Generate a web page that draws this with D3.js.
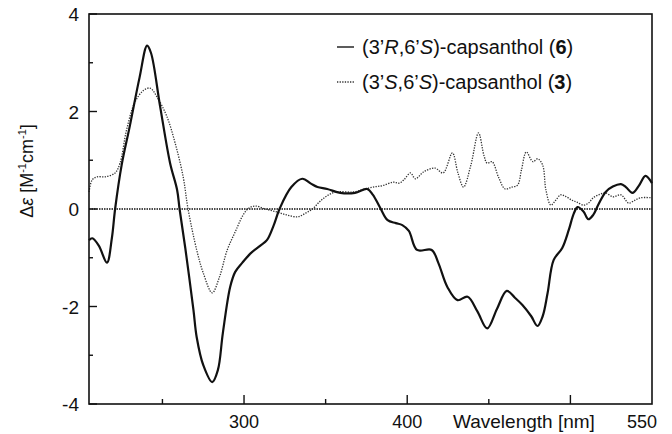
<!DOCTYPE html>
<html>
<head>
<meta charset="utf-8">
<script src="https://cdn.jsdelivr.net/npm/d3@7.9.0/dist/d3.min.js"></script>
<style>
  body { margin: 0; background: #fff; }
  text { font-family: "Liberation Sans", Arial, sans-serif; fill: #111; }
</style>
</head>
<body>
<svg id="chart" width="672" height="434"></svg>
<script>
// CD spectra, wavelength in nm, delta epsilon in M^-1 cm^-1
const wl6 = [205, 207, 211, 216, 219, 221, 225, 230, 236, 240.6, 243, 248.6, 254.7, 259, 260.5, 264, 269, 271, 275, 280.5,
  284, 287, 291.5, 294.6, 299, 304, 310, 314, 318, 322, 329, 335.7, 341, 345, 351, 359, 368, 375.5, 379, 383.5,
  388, 393, 397, 401, 406, 415, 419, 424.6, 430.8, 437, 443, 449, 455, 461, 466, 470.6, 476, 479.8, 483, 486,
  489.7, 495, 499, 502, 504.4, 508, 511, 514, 517, 521.6, 526, 531, 534, 538, 542, 546, 550];
const de6 = [-0.64, -0.6, -0.75, -1.1, -0.6, 0, 0.9, 1.7, 2.7, 3.35, 3.2, 2.1, 0.94, 0.39, 0, -0.8, -2.07, -2.63, -3.2, -3.55,
  -3.3, -2.55, -1.6, -1.29, -1.1, -0.91, -0.75, -0.64, -0.35, 0.02, 0.45, 0.62, 0.52, 0.45, 0.41, 0.33, 0.33, 0.41, 0.29, 0.02,
  -0.23, -0.29, -0.33, -0.45, -0.84, -0.84, -1.1, -1.6, -1.87, -1.8, -2.1, -2.45, -2.05, -1.68, -1.82, -1.97, -2.2, -2.4, -2.2, -1.73,
  -1.05, -0.8, -0.43, -0.1, 0.04, -0.05, -0.21, -0.12, 0.08, 0.35, 0.46, 0.51, 0.45, 0.33, 0.48, 0.68, 0.53];

const wl3 = [205, 207, 210, 215, 221, 224, 228, 233, 238, 242.4, 247, 252.8, 257.8, 262.7, 265.7, 271, 275, 280.5, 285, 289.7,
  294.6, 299.5, 303, 307, 313, 320, 326, 333, 338, 342, 346, 350, 356, 367, 373, 379, 385, 391.5, 395, 398,
  402, 405, 410, 417, 422, 427.7, 431, 434.5, 439, 443.7, 447, 449, 452, 456, 460, 464, 467.6, 470, 473, 477,
  480, 483, 485, 488, 491, 494, 497, 501, 504, 508, 511, 514, 518, 521.6, 526, 531, 535.7, 539, 543, 550];
const de3 = [0.35, 0.6, 0.66, 0.66, 0.74, 0.94, 1.62, 2.18, 2.42, 2.48, 2.28, 1.89, 1.35, 0.66, 0, -0.84, -1.31, -1.72, -1.39, -0.84,
  -0.47, -0.12, 0.02, 0.06, 0, -0.06, -0.12, -0.16, -0.08, 0, 0.14, 0.25, 0.35, 0.35, 0.4, 0.45, 0.48, 0.55, 0.53, 0.6,
  0.74, 0.62, 0.76, 0.84, 0.74, 1.15, 0.75, 0.45, 0.9, 1.56, 1.1, 0.94, 0.97, 0.65, 0.41, 0.45, 0.49, 0.8, 1.17, 0.97,
  1.03, 0.9, 0.39, 0.08, 0.18, 0.29, 0.26, 0.18, 0.14, 0.08, 0.12, 0.23, 0.3, 0.33, 0.25, 0.29, 0.12, 0.17, 0.23, 0.23];

const xMajor = [300, 400, 500];
const xMinor = [250, 350, 450];
const xLabels = [300, 400, 550];
const yMajor = [-4, -2, 0, 2, 4];
const yMinor = [-3, -1, 1, 3];

const svg = d3.select('#chart');
const mLeft = 89, mRight = 652, mTop = 14, mBottom = 404;

const x = d3.scaleLinear().domain([205, 550]).range([mLeft, mRight]);
const y = d3.scaleLinear().domain([-4, 4]).range([mBottom, mTop]);

// zero line
svg.append('line')
  .attr('x1', mLeft).attr('x2', mRight)
  .attr('y1', y(0)).attr('y2', y(0))
  .attr('stroke', '#111').attr('stroke-width', 1.6)
  .attr('stroke-dasharray', '1.5 1');

const line = d3.line()
  .x(d => x(d[0]))
  .y(d => y(d[1]))
  .curve(d3.curveCatmullRom.alpha(0.5));

// (3'S,6'S) dotted
svg.append('path')
  .datum(d3.zip(wl3, de3))
  .attr('d', line)
  .attr('fill', 'none')
  .attr('stroke', '#333')
  .attr('stroke-width', 1.3)
  .attr('stroke-dasharray', '1.3 1.3');

// (3'R,6'S) solid
svg.append('path')
  .datum(d3.zip(wl6, de6))
  .attr('d', line)
  .attr('fill', 'none')
  .attr('stroke', '#111')
  .attr('stroke-width', 2.2)
  .attr('stroke-linejoin', 'round');

// frame
svg.append('rect')
  .attr('x', mLeft).attr('y', mTop)
  .attr('width', mRight - mLeft).attr('height', mBottom - mTop)
  .attr('fill', 'none').attr('stroke', '#111').attr('stroke-width', 1.6);

// inward ticks
svg.selectAll('.xt').data(xMajor.concat(xMinor)).enter().append('line')
  .attr('x1', d => x(d)).attr('x2', d => x(d))
  .attr('y1', mBottom)
  .attr('y2', d => mBottom - (xMajor.includes(d) ? 9 : 5))
  .attr('stroke', '#111').attr('stroke-width', 1.4);

svg.selectAll('.yt').data(yMajor.concat(yMinor)).enter().append('line')
  .attr('y1', d => y(d)).attr('y2', d => y(d))
  .attr('x1', mLeft)
  .attr('x2', d => mLeft + (yMajor.includes(d) ? 8 : 4))
  .attr('stroke', '#111').attr('stroke-width', 1.4);

// tick labels
svg.selectAll('.xl').data(xLabels).enter().append('text')
  .attr('x', d => x(d) - (d === 550 ? 10 : 0))
  .attr('y', 428)
  .attr('text-anchor', 'middle')
  .attr('font-size', 18)
  .text(d => d);

svg.selectAll('.yl').data(yMajor).enter().append('text')
  .attr('x', 79)
  .attr('y', d => y(d) + 7)
  .attr('text-anchor', 'end')
  .attr('font-size', 19)
  .text(d => d);

// axis titles
svg.append('text')
  .attr('x', 453).attr('y', 428)
  .attr('font-size', 19)
  .text('Wavelength [nm]');

const yt = svg.append('text')
  .attr('transform', 'translate(33,171) rotate(-90)')
  .attr('text-anchor', 'middle')
  .attr('font-size', 18);
yt.append('tspan').text('Δ');
yt.append('tspan').attr('font-style', 'italic').text('ε');
yt.append('tspan').text(' [M');
yt.append('tspan').attr('font-size', 11).attr('dy', -7).text('-1');
yt.append('tspan').attr('dy', 7).text('cm');
yt.append('tspan').attr('font-size', 11).attr('dy', -7).text('-1');
yt.append('tspan').attr('dy', 7).text(']');

// legend
const legend = [
  { dash: null, w: 1.6, parts: [['(3’', ''], ['R', 'i'], [',6’', ''], ['S', 'i'], [')-capsanthol (', ''], ['6', 'b'], [')', '']] },
  { dash: '1.3 1.3', w: 1.3, parts: [['(3’', ''], ['S', 'i'], [',6’', ''], ['S', 'i'], [')-capsanthol (', ''], ['3', 'b'], [')', '']] }
];
legend.forEach((item, i) => {
  const ly = 47 + i * 35;
  svg.append('line')
    .attr('x1', 337).attr('x2', 354)
    .attr('y1', ly).attr('y2', ly)
    .attr('stroke', '#333').attr('stroke-width', item.w)
    .attr('stroke-dasharray', item.dash);
  const t = svg.append('text')
    .attr('x', 362).attr('y', ly + 7)
    .attr('font-size', 20);
  item.parts.forEach(p => {
    t.append('tspan')
      .attr('font-style', p[1] === 'i' ? 'italic' : null)
      .attr('font-weight', p[1] === 'b' ? 'bold' : null)
      .text(p[0]);
  });
});
</script>
</body>
</html>
